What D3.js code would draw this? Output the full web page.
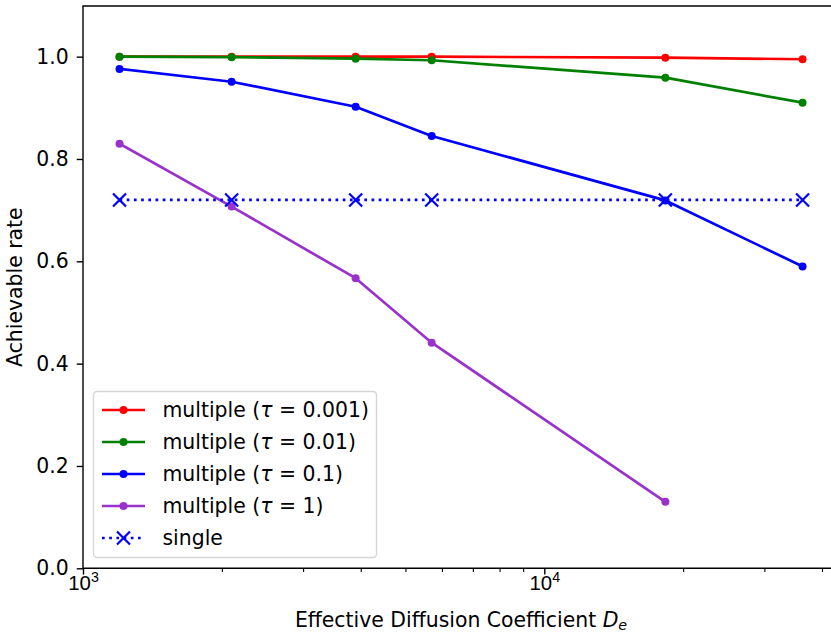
<!DOCTYPE html>
<html>
<head>
<meta charset="utf-8">
<script src="https://cdn.jsdelivr.net/npm/d3@7"></script>
<style>
  body { margin: 0; background: #fff; }
  svg { display: block; font-family: "DejaVu Sans", sans-serif; }
</style>
</head>
<body>
<svg width="831" height="634"></svg>
<script>
// Data
const diffusion = [1200, 2100, 3900, 5700, 18300, 36300];
const rateTau0001 = [1.0, 1.0, 1.0, 1.0, 0.998, 0.995];
const rateTau001 = [1.0, 0.999, 0.996, 0.993, 0.959, 0.910];
const rateTau01 = [0.976, 0.951, 0.902, 0.845, 0.719, 0.590];
const rateTau1 = [0.830, 0.707, 0.567, 0.441, 0.130];
const rateSingle = [0.72, 0.72, 0.72, 0.72, 0.72, 0.72];
const yTicks = [0.0, 0.2, 0.4, 0.6, 0.8, 1.0];
const xMajorTicks = [1e3, 1e4];

const series = [
  { label: "0.001", values: rateTau0001, color: "#ff0000" },
  { label: "0.01", values: rateTau001, color: "#008000" },
  { label: "0.1", values: rateTau01, color: "#0000ff" },
  { label: "1", values: rateTau1, color: "#9932cc" }
];

const fontSize = 20.4;
const svg = d3.select("svg");
const plotLeft = 83, plotRight = 836.5, plotTop = 6, plotBottom = 568.3;

const x = d3.scaleLog().domain([1000, 43000]).range([plotLeft, plotRight]);
const y = d3.scaleLinear().domain([0, 1.099]).range([plotBottom, plotTop]);

const line = d3.line()
    .x((d, i) => x(diffusion[i]))
    .y(d => y(d));

// Series lines and dot markers
series.forEach(s => {
  svg.append("path")
      .datum(s.values)
      .attr("d", line)
      .attr("fill", "none")
      .attr("stroke", s.color)
      .attr("stroke-width", 2.7)
      .attr("stroke-linejoin", "round")
      .attr("stroke-linecap", "square");
  svg.selectAll(null)
      .data(s.values)
      .enter()
      .append("circle")
      .attr("cx", (d, i) => x(diffusion[i]))
      .attr("cy", d => y(d))
      .attr("r", 4)
      .attr("fill", s.color);
});

// Single: dotted line with x markers
svg.append("path")
    .datum(rateSingle)
    .attr("d", line)
    .attr("fill", "none")
    .attr("stroke", "#0000ff")
    .attr("stroke-width", 2.7)
    .attr("stroke-dasharray", "2.7,4.5");

const xMark = (g, cx, cy) => {
  const h = 6.5;
  g.append("path")
      .attr("d", `M${cx - h},${cy - h}L${cx + h},${cy + h}M${cx - h},${cy + h}L${cx + h},${cy - h}`)
      .attr("stroke", "#0000ff")
      .attr("stroke-width", 2.2)
      .attr("fill", "none");
};
rateSingle.forEach((v, i) => xMark(svg, x(diffusion[i]), y(v)));

// Spines
svg.append("path")
    .attr("d", `M${plotLeft},${plotTop}V${plotBottom}H${plotRight}V${plotTop}Z`)
    .attr("fill", "none")
    .attr("stroke", "#000")
    .attr("stroke-width", 1.4);

// Y axis
const yAxis = svg.append("g")
    .attr("transform", `translate(${plotLeft},0)`)
    .call(d3.axisLeft(y).tickValues(yTicks).tickFormat(d3.format(".1f")).tickSize(6.3).tickPadding(8));
yAxis.select(".domain").remove();
yAxis.selectAll("line").attr("stroke-width", 1.4);
yAxis.selectAll("text").attr("font-size", fontSize).attr("font-family", "DejaVu Sans").attr("fill", "#000");

// X axis: major and minor ticks
const minorTicks = [];
[1e3, 1e4].forEach(base => {
  for (let k = 2; k <= 9; k++) {
    const v = base * k;
    if (v < 43000) minorTicks.push(v);
  }
});
const xAxisMinor = svg.append("g")
    .attr("transform", `translate(0,${plotBottom})`)
    .call(d3.axisBottom(x).tickValues(minorTicks).tickFormat("").tickSize(3.6));
xAxisMinor.select(".domain").remove();
xAxisMinor.selectAll("line").attr("stroke-width", 1.1);

const xAxis = svg.append("g")
    .attr("transform", `translate(0,${plotBottom})`)
    .call(d3.axisBottom(x).tickValues(xMajorTicks).tickFormat("").tickSize(6.3));
xAxis.select(".domain").remove();
xAxis.selectAll("line").attr("stroke-width", 1.4);
xAxis.selectAll(".tick").each(function(d) {
  const t = d3.select(this).append("text")
      .attr("y", 22)
      .attr("text-anchor", "middle")
      .attr("font-size", fontSize)
      .attr("fill", "#000");
  t.append("tspan").text("10");
  t.append("tspan").attr("dy", -8).attr("font-size", fontSize * 0.7).text(Math.round(Math.log10(d)));
});

// Axis labels
const xl = svg.append("text")
    .attr("x", 461)
    .attr("y", 627)
    .attr("text-anchor", "middle")
    .attr("font-size", fontSize);
xl.append("tspan").text("Effective Diffusion Coefficient ");
xl.append("tspan").attr("font-style", "italic").text("D");
xl.append("tspan").attr("font-style", "italic").attr("font-size", fontSize * 0.7).attr("dy", 3).text("e");

svg.append("text")
    .attr("transform", `translate(22,${(plotTop + plotBottom) / 2}) rotate(-90)`)
    .attr("text-anchor", "middle")
    .attr("font-size", fontSize)
    .text("Achievable rate");

// Legend
const legend = svg.append("g");
legend.append("rect")
    .attr("x", 93.5).attr("y", 391.5)
    .attr("width", 283).attr("height", 166)
    .attr("rx", 3.5)
    .attr("fill", "rgba(255,255,255,0.8)")
    .attr("stroke", "#d6d6d6")
    .attr("stroke-width", 1.4);

const rowY = i => 410 + i * 32;
series.forEach((s, i) => {
  const g = legend.append("g");
  g.append("line")
      .attr("x1", 102).attr("x2", 145)
      .attr("y1", rowY(i)).attr("y2", rowY(i))
      .attr("stroke", s.color).attr("stroke-width", 2.7);
  g.append("circle").attr("cx", 123.5).attr("cy", rowY(i)).attr("r", 4).attr("fill", s.color);
  const t = g.append("text")
      .attr("x", 162.5).attr("y", rowY(i) + 7)
      .attr("font-size", fontSize);
  t.append("tspan").text("multiple (");
  t.append("tspan").attr("font-style", "italic").text("τ");
  t.append("tspan").text(" = " + s.label + ")");
});
const sy = rowY(4);
legend.append("line")
    .attr("x1", 102).attr("x2", 145)
    .attr("y1", sy).attr("y2", sy)
    .attr("stroke", "#0000ff").attr("stroke-width", 2.7)
    .attr("stroke-dasharray", "2.7,4.5");
xMark(legend, 123.5, sy);
legend.append("text")
    .attr("x", 162.5).attr("y", sy + 7)
    .attr("font-size", fontSize)
    .text("single");
</script>
</body>
</html>
